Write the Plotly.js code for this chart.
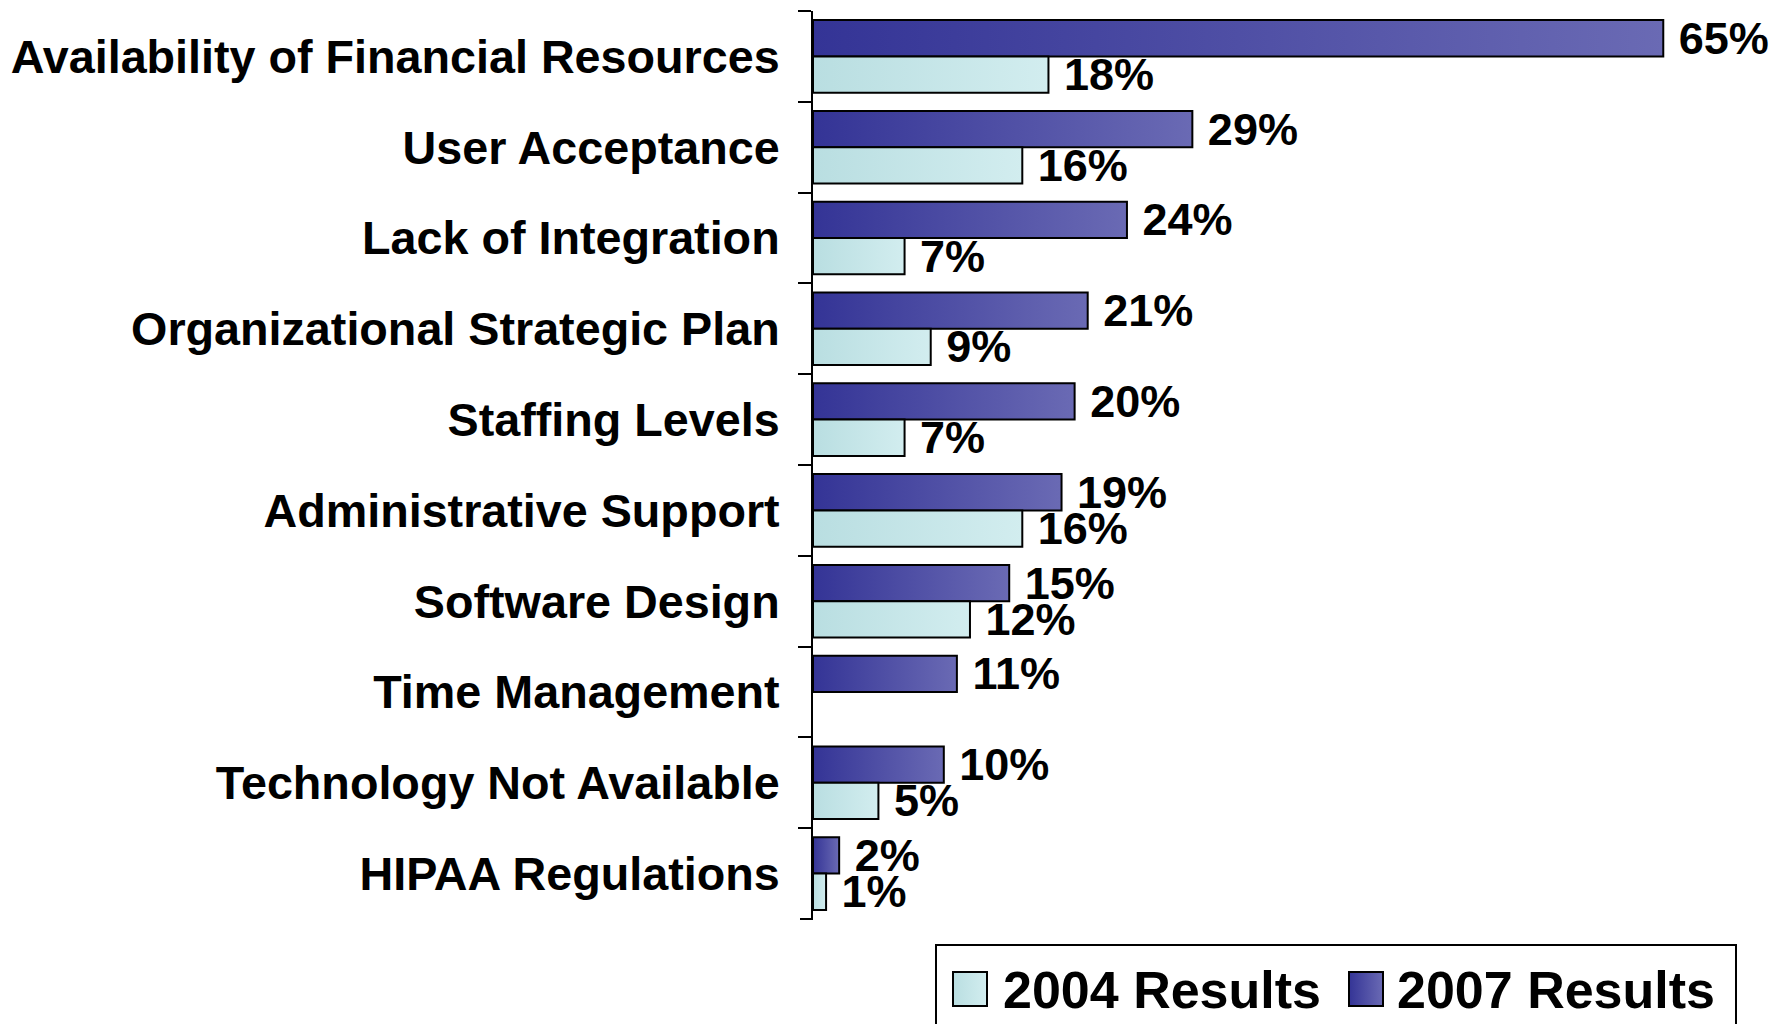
<!DOCTYPE html>
<html>
<head>
<meta charset="utf-8">
<script src="https://cdn.plot.ly/plotly-3.0.1.min.js"></script>
<style>
  html, body { margin: 0; padding: 0; background: #ffffff; }
  #chart { width: 1782px; height: 1024px; }
</style>
</head>
<body>
<div id="chart"></div>
<script>
const categories = [
  "Availability of Financial Resources",
  "User Acceptance",
  "Lack of Integration",
  "Organizational Strategic Plan",
  "Staffing Levels",
  "Administrative Support",
  "Software Design",
  "Time Management",
  "Technology Not Available",
  "HIPAA Regulations"
];
const results2007 = [65, 29, 24, 21, 20, 19, 15, 11, 10, 2];
const results2004 = [18, 16, 7, 9, 7, 16, 12, null, 5, 1];
const seriesNames = ["2007 Results", "2004 Results"];
const legendOrder = ["2004 Results", "2007 Results"];

const FONT = '"Liberation Sans", Arial, Helvetica, sans-serif';
const W = 1782, H = 1024;
const M = { l: 813, r: 1, t: 11, b: 104 };
const PW = W - M.l - M.r, PH = H - M.t - M.b;
const px = x => (x - M.l) / PW;          // page px -> paper x
const py = y => (H - M.b - y) / PH;      // page px -> paper y

const colors = {
  "2007 Results": { solid: "#4d4da6", g1: "#343496", g2: "#6a6ab4" },
  "2004 Results": { solid: "#c6e5e8", g1: "#b9dee1", g2: "#d2edef" }
};

function labels(vals) {
  return vals.map(v => (v === null ? "" : "\u00a0" + v + "%"));
}

function makeTrace(name, vals) {
  return {
    type: "bar",
    orientation: "h",
    name: name,
    y: categories,
    x: vals,
    text: labels(vals),
    textposition: "outside",
    textfont: { family: FONT, size: 45, color: "#000000", weight: "bold" },
    constraintext: "none",
    cliponaxis: false,
    hoverinfo: "skip",
    marker: { color: colors[name].solid, line: { color: "#000000", width: 2 } }
  };
}

const traces = [
  makeTrace(seriesNames[0], results2007),
  makeTrace(seriesNames[1], results2004)
];

// Manual legend (box, swatches, labels)
const legendBox = { x0: 936, x1: 1736, y0: 945, y1: 1045 };
const swatchX = [953, 1349];
const textX = [1001, 1395];
const swatchY = [972, 1006];

const shapes = [
  { type: "line", xref: "paper", yref: "y", x0: px(800), x1: 0,
    y0: categories.length - 0.5, y1: categories.length - 0.5,
    line: { color: "#000000", width: 2 } },
  { type: "rect", xref: "paper", yref: "paper",
    x0: px(legendBox.x0), x1: px(legendBox.x1), y0: py(legendBox.y0), y1: py(legendBox.y1),
    line: { color: "#000000", width: 2 }, fillcolor: "rgba(0,0,0,0)" }
];
const annotations = [];
legendOrder.forEach((name, i) => {
  shapes.push({ type: "rect", xref: "paper", yref: "paper",
    x0: px(swatchX[i]), x1: px(swatchX[i] + 34), y0: py(swatchY[0]), y1: py(swatchY[1]),
    line: { color: "#000000", width: 2 }, fillcolor: colors[name].solid });
  annotations.push({ xref: "paper", yref: "paper", x: px(textX[i]), y: py(990),
    xanchor: "left", yanchor: "middle", showarrow: false, text: name,
    font: { family: FONT, size: 52, color: "#000000", weight: "bold" } });
});

const layout = {
  width: W,
  height: H,
  margin: { l: M.l, r: M.r, t: M.t, b: M.b, pad: 0 },
  paper_bgcolor: "#ffffff",
  plot_bgcolor: "#ffffff",
  barmode: "group",
  bargap: 0.2,
  bargroupgap: 0,
  font: { family: FONT, color: "#000000" },
  showlegend: false,
  xaxis: {
    range: [0, 74],
    visible: false,
    showgrid: false,
    zeroline: false,
    fixedrange: true
  },
  yaxis: {
    type: "category",
    autorange: "reversed",
    showline: true,
    linecolor: "#000000",
    linewidth: 2,
    ticks: "outside",
    tickson: "boundaries",
    ticklen: 13,
    tickwidth: 2,
    tickcolor: "#000000",
    ticklabelstandoff: 22,
    showgrid: false,
    zeroline: false,
    tickfont: { family: FONT, size: 46.7, color: "#000000", weight: "bold" },
    fixedrange: true
  },
  shapes: shapes,
  annotations: annotations
};

Plotly.newPlot("chart", traces, layout, { displayModeBar: false, staticPlot: true }).then(gd => {
  const svgNS = "http://www.w3.org/2000/svg";
  const svg = gd.querySelector("svg.main-svg");
  let defs = svg.querySelector("defs");
  if (!defs) { defs = document.createElementNS(svgNS, "defs"); svg.insertBefore(defs, svg.firstChild); }
  function addGrad(id, c1, c2) {
    const g = document.createElementNS(svgNS, "linearGradient");
    g.setAttribute("id", id);
    g.setAttribute("x1", "0"); g.setAttribute("y1", "0");
    g.setAttribute("x2", "1"); g.setAttribute("y2", "0");
    [[0, c1], [1, c2]].forEach(([o, c]) => {
      const s = document.createElementNS(svgNS, "stop");
      s.setAttribute("offset", o);
      s.setAttribute("stop-color", c);
      g.appendChild(s);
    });
    defs.appendChild(g);
  }
  const gradId = {};
  seriesNames.forEach((name, i) => {
    gradId[name] = "grad" + i;
    addGrad(gradId[name], colors[name].g1, colors[name].g2);
  });

  gd.querySelectorAll(".barlayer .trace").forEach((t, i) => {
    const id = "url(#" + gradId[seriesNames[i]] + ")";
    t.querySelectorAll(".point path").forEach(p => { p.style.fill = id; });
  });

  // legend swatches are shapes 2 and 3
  legendOrder.forEach((name, i) => {
    const p = gd.querySelector('.shapelayer path[data-index="' + (2 + i) + '"]');
    if (p) p.style.fill = "url(#" + gradId[name] + ")";
  });
});
</script>
</body>
</html>
